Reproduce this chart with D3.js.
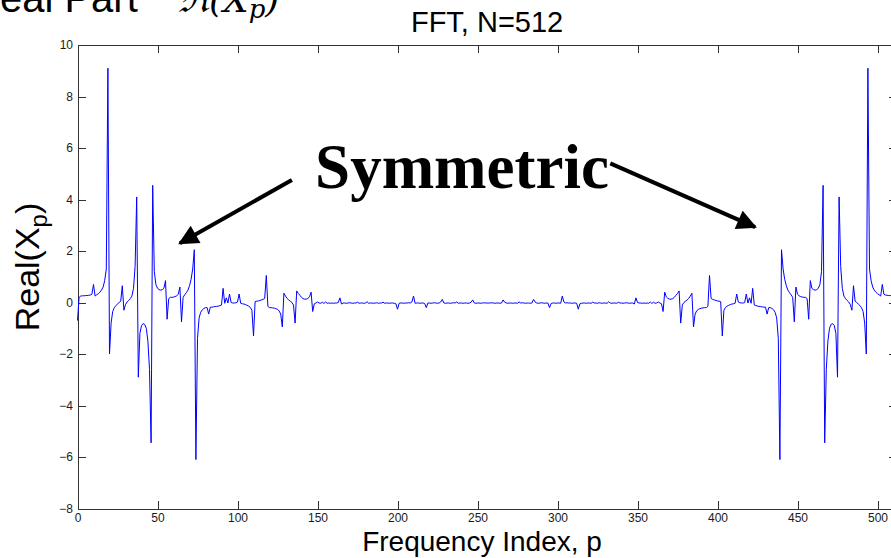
<!DOCTYPE html>
<html>
<head>
<meta charset="utf-8">
<script src="https://cdn.jsdelivr.net/npm/d3@7"></script>
<style>
  body { margin: 0; background: #fff; }
  svg { display: block; }
  .axis path, .axis line { stroke: #333; shape-rendering: crispEdges; }
  .axis text { font-family: "Liberation Sans", Arial, sans-serif; font-size: 12px; fill: #1a1a1a; }
</style>
</head>
<body>
<div id="chart"></div>
<script>
// Real part of the 512-point FFT, index p = 0..256
const realLow = [
  -0.70, 0.20, 0.25, 0.26, 0.26, 0.27, 0.27, 0.28, 0.29, 0.32,
  0.70, 0.25, 0.30, 0.34, 0.40, 0.48, 0.60, 0.85, 1.30, 9.10,
  -2.00, -0.80, -0.35, -0.20, -0.12, -0.06, 0.00, 0.05, 0.65, -0.30,
  -0.08, 0.02, 0.08, 0.15, 0.25, 0.55, 1.40, 4.10, -2.90, -1.20,
  -0.90, -0.82, -0.85, -1.00, -1.50, -2.60, -5.45, 4.55, 1.20, 0.70,
  0.55, 0.50, 0.48, 0.50, 0.55, 0.85, -0.65, 0.15, 0.20, 0.20,
  0.21, 0.23, 0.26, 0.32, 0.60, -0.75, 0.20, 0.30, 0.38, 0.48,
  0.65, 0.90, 1.30, 2.05, -6.10, -1.40, -0.60, -0.38, -0.28, -0.23,
  -0.20, -0.20, -0.45, -0.18, -0.18, -0.17, -0.16, -0.15, -0.14, -0.12,
  -0.10, 0.55, -0.03, 0.18, -0.02, 0.33, 0.00, -0.02, -0.02, -0.01,
  0.02, 0.33, -0.03, -0.05, -0.06, -0.08, -0.11, -0.14, -0.19, -0.30,
  -1.30, 0.03, 0.05, 0.06, 0.08, 0.10, 0.12, 0.16, 1.05, -0.15,
  -0.20, -0.20, -0.21, -0.22, -0.24, -0.27, -0.32, -0.45, -0.95, 0.36,
  0.25, 0.16, 0.10, 0.05, 0.00, -0.10, -0.80, 0.45, 0.35, 0.28,
  0.20, 0.15, 0.13, 0.13, 0.16, 0.22, 0.40, -0.35, -0.05, -0.02,
  0.02, -0.02, -0.03, 0.01, -0.04, 0.02, -0.03, -0.02, -0.03, -0.02,
  -0.03, -0.02, -0.02, 0.00, 0.18, -0.06, -0.02, -0.02, -0.03, -0.02,
  -0.01, -0.02, -0.03, -0.02, -0.02, 0.01, -0.03, -0.02, -0.02, -0.03,
  -0.02, 0.03, -0.03, -0.02, -0.02, -0.03, -0.02, -0.01, -0.03, -0.02,
  -0.02, 0.01, -0.03, -0.02, -0.02, -0.03, -0.02, -0.02, -0.03, -0.05,
  -0.26, -0.03, -0.02, -0.02, -0.03, -0.02, -0.02, -0.01, -0.02, 0.02,
  0.25, -0.03, -0.02, -0.02, -0.03, -0.02, -0.02, -0.04, -0.20, -0.02,
  -0.02, -0.03, -0.02, -0.01, -0.02, -0.03, -0.02, 0.02, 0.12, -0.02,
  -0.03, -0.02, -0.02, -0.03, -0.02, -0.01, -0.02, 0.02, -0.03, -0.02,
  -0.02, -0.03, -0.02, -0.02, -0.03, -0.02, 0.01, 0.10, -0.02, -0.03,
  -0.02, -0.02, -0.03, -0.02, -0.01, -0.02, -0.02
];

// p = 257..511 (the mirrored half)
const realHigh = [
  -0.02, -0.02, -0.01, -0.02, -0.03, -0.02, -0.02,
  -0.03, -0.02, 0.10, 0.01, -0.02, -0.03, -0.02, -0.02, -0.03, -0.02,
  -0.02, -0.03, 0.02, -0.02, -0.01, -0.02, -0.03, -0.02, -0.02, -0.03,
  -0.02, 0.12, 0.02, -0.02, -0.03, -0.02, -0.01, -0.02, -0.03, -0.02,
  -0.02, -0.20, -0.04, -0.02, -0.02, -0.03, -0.02, -0.02, -0.03, 0.25,
  0.02, -0.02, -0.01, -0.02, -0.02, -0.03, -0.02, -0.02, -0.03, -0.26,
  -0.05, -0.03, -0.02, -0.02, -0.03, -0.02, -0.02, -0.03, 0.01, -0.02,
  -0.02, -0.03, -0.01, -0.02, -0.03, -0.02, -0.02, -0.03, 0.03, -0.02,
  -0.03, -0.02, -0.02, -0.03, 0.01, -0.02, -0.02, -0.03, -0.02, -0.01,
  -0.02, -0.03, -0.02, -0.02, -0.06, 0.18, 0.00, -0.02, -0.02, -0.03,
  -0.02, -0.03, -0.02, -0.03, 0.02, -0.04, 0.01, -0.03, -0.02, 0.02,
  -0.02, -0.05, -0.35, 0.40, 0.22, 0.16, 0.13, 0.13, 0.15, 0.20,
  0.28, 0.35, 0.45, -0.80, -0.10, 0.00, 0.05, 0.10, 0.16, 0.25,
  0.36, -0.95, -0.45, -0.32, -0.27, -0.24, -0.22, -0.21, -0.20, -0.20,
  -0.15, 1.05, 0.16, 0.12, 0.10, 0.08, 0.06, 0.05, 0.03, -1.30,
  -0.30, -0.19, -0.14, -0.11, -0.08, -0.06, -0.05, -0.03, 0.33, 0.02,
  -0.01, -0.02, -0.02, 0.00, 0.33, -0.02, 0.18, -0.03, 0.55, -0.10,
  -0.12, -0.14, -0.15, -0.16, -0.17, -0.18, -0.18, -0.45, -0.20, -0.20,
  -0.23, -0.28, -0.38, -0.60, -1.40, -6.10, 2.05, 1.30, 0.90, 0.65,
  0.48, 0.38, 0.30, 0.20, -0.75, 0.60, 0.32, 0.26, 0.23, 0.21,
  0.20, 0.20, 0.15, -0.65, 0.85, 0.55, 0.50, 0.48, 0.50, 0.55,
  0.70, 1.20, 4.55, -5.45, -2.60, -1.50, -1.00, -0.85, -0.82, -0.90,
  -1.20, -2.90, 4.10, 1.40, 0.55, 0.25, 0.15, 0.08, 0.02, -0.08,
  -0.30, 0.65, 0.05, 0.00, -0.06, -0.12, -0.20, -0.35, -0.80, -2.00,
  9.10, 1.30, 0.85, 0.60, 0.48, 0.40, 0.34, 0.30, 0.25, 0.70,
  0.32, 0.29, 0.28, 0.27, 0.27, 0.26, 0.26, 0.25
];

const realX = realLow.concat(realHigh);

const xTicks = [0, 50, 100, 150, 200, 250, 300, 350, 400, 450, 500];
const yTicks = [-8, -6, -4, -2, 0, 2, 4, 6, 8, 10];

const W = 891, H = 558;
const plot = {left: 77.5, right: 896.7, top: 45, bottom: 508.5};

const svg = d3.select("#chart")
  .append("svg")
    .attr("width", W)
    .attr("height", H);

const x = d3.scaleLinear().domain([0, 512]).range([plot.left, plot.right]);
const y = d3.scaleLinear().domain([-8, 10]).range([plot.bottom, plot.top]);

// cut-off heading at the very top
svg.append("text")
  .attr("x", -29)
  .attr("y", 12)
  .style("font-family", "'Liberation Sans', Arial, sans-serif")
  .style("font-size", "40px")
  .text("Real Part");
const math = svg.append("text")
  .attr("x", 178)
  .attr("y", 12)
  .style("font-family", "'DejaVu Serif', 'Liberation Serif', serif")
  .style("font-size", "36px")
  .style("font-style", "italic");
math.append("tspan").text("ℜ(X");
math.append("tspan").attr("dy", 6).style("font-size", "26px").text("p");
math.append("tspan").attr("dy", -6).text(")");

// axes box, ticks inward
svg.append("g")
  .attr("class", "axis")
  .attr("transform", `translate(0,${plot.bottom})`)
  .call(d3.axisBottom(x).tickValues(xTicks).tickSize(-8).tickSizeOuter(0).tickPadding(5));
svg.append("g")
  .attr("class", "axis")
  .attr("transform", `translate(0,${plot.top})`)
  .call(d3.axisTop(x).tickValues(xTicks).tickSize(-8).tickSizeOuter(0).tickFormat(""));
svg.append("g")
  .attr("class", "axis")
  .attr("transform", `translate(${plot.left},0)`)
  .call(d3.axisLeft(y).tickValues(yTicks).tickSize(-8).tickSizeOuter(0).tickPadding(4.5));
svg.append("g")
  .attr("class", "axis")
  .attr("transform", `translate(${plot.right},0)`)
  .call(d3.axisRight(y).tickValues(yTicks).tickSize(-8).tickSizeOuter(0).tickFormat(""));

// the FFT line
const line = d3.line()
  .x((d, i) => x(i))
  .y(d => y(d));
svg.append("path")
  .datum(realX)
  .attr("fill", "none")
  .attr("stroke", "#0000ff")
  .attr("stroke-width", 1)
  .attr("d", line);

// title and labels
svg.append("text")
  .attr("x", (plot.left + plot.right) / 2)
  .attr("y", 32)
  .attr("text-anchor", "middle")
  .style("font-family", "'Liberation Sans', Arial, sans-serif")
  .style("font-size", "29px")
  .text("FFT, N=512");

svg.append("text")
  .attr("x", 482)
  .attr("y", 551)
  .attr("text-anchor", "middle")
  .style("font-family", "'Liberation Sans', Arial, sans-serif")
  .style("font-size", "28px")
  .text("Frequency Index, p");

const yl = svg.append("text")
  .attr("transform", "translate(39,267) rotate(-90)")
  .attr("text-anchor", "middle")
  .style("font-family", "'Liberation Sans', Arial, sans-serif")
  .style("font-size", "34px");
yl.append("tspan").text("Real(X");
yl.append("tspan").attr("dy", 8).style("font-size", "24px").text("p");
yl.append("tspan").attr("dy", -8).text(")");

// "Symmetric" annotation with arrows (placed in data units)
const defs = svg.append("defs");
defs.append("marker")
  .attr("id", "head")
  .attr("viewBox", "0 0 10 10")
  .attr("refX", 9)
  .attr("refY", 5)
  .attr("markerWidth", 5.5)
  .attr("markerHeight", 5)
  .attr("orient", "auto")
  .attr("markerUnits", "strokeWidth")
  .append("path")
    .attr("d", "M0,0 L10,5 L0,10 Z")
    .attr("fill", "#000");

const arrows = [
  {from: [134, 4.76], to: [64, 2.3]},
  {from: [333, 5.4], to: [423.5, 2.93]}
];
svg.selectAll(".arrow")
  .data(arrows)
  .enter()
  .append("line")
    .attr("class", "arrow")
    .attr("x1", d => x(d.from[0]))
    .attr("y1", d => y(d.from[1]))
    .attr("x2", d => x(d.to[0]))
    .attr("y2", d => y(d.to[1]))
    .attr("stroke", "#000")
    .attr("stroke-width", 4)
    .attr("marker-end", "url(#head)");

svg.append("text")
  .attr("x", x(148.5))
  .attr("y", y(4.43))
  .style("font-family", "'Liberation Serif', 'Times New Roman', serif")
  .style("font-weight", "bold")
  .style("font-size", "63px")
  .text("Symmetric");
</script>
</body>
</html>
